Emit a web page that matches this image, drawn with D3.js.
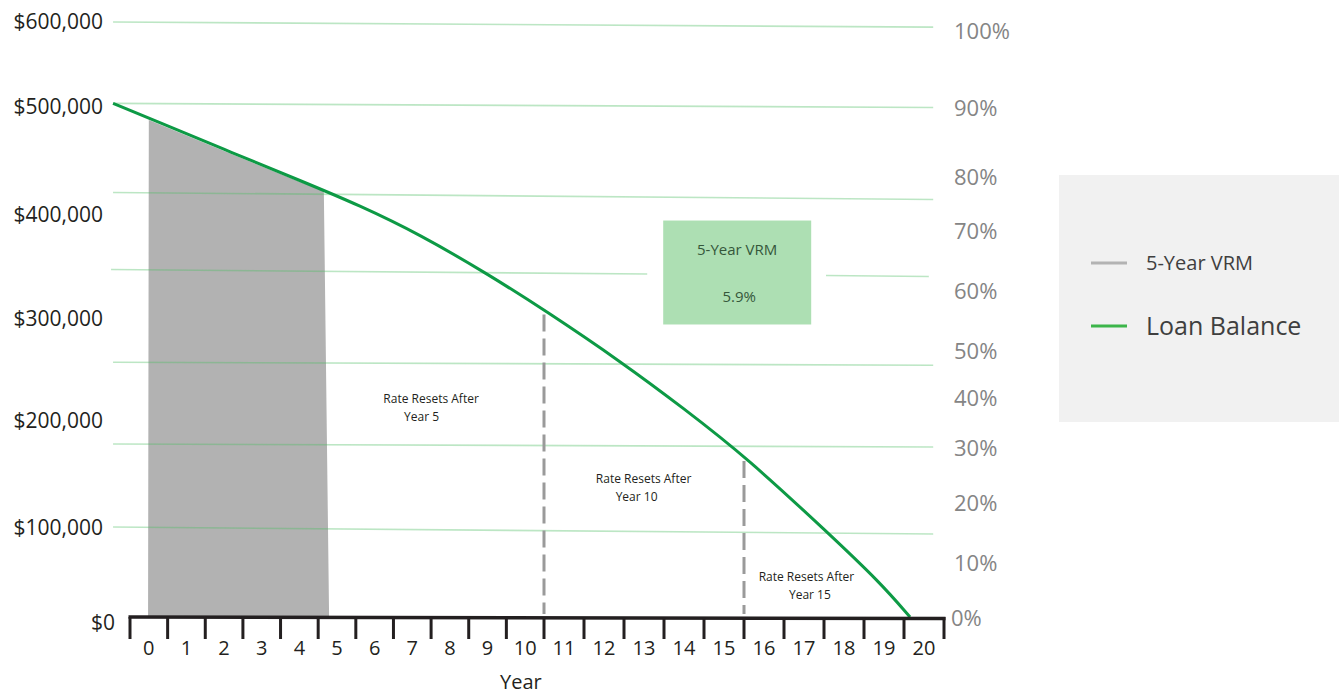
<!DOCTYPE html>
<html>
<head>
<meta charset="utf-8">
<script src="https://cdn.jsdelivr.net/npm/d3@7"></script>
<style>
  html, body { margin: 0; padding: 0; background: #ffffff; }
  svg { display: block; }
  text { font-family: "Open Sans", "Noto Sans", sans-serif; }
</style>
</head>
<body>
<svg id="chart" width="1339" height="698"></svg>
<script>
// ---------- DATA ----------
const yearLabels = d3.range(0, 21);                       // 0 .. 20
const dollarTicks = [0, 100000, 200000, 300000, 400000, 500000, 600000];
const pctTicks = [0, 10, 20, 30, 40, 50, 60, 70, 80, 90, 100];

// Loan balance curve (year position on tick scale, balance $)
const balanceYears  = [-0.45, 0.53, 2.5, 4.52, 6.11, 7.7, 9.48, 11.03, 12.98, 14.48, 16.08, 18.1, 19.4, 20.15];
const balanceValues = [503600, 488900, 460200, 431500, 408300, 380800, 343300, 307700, 255900, 211800, 164500, 93400, 38500, 0];

// 5-Year VRM shaded region
const vrmYears  = [0.48, 0.5, 2.5, 4.52, 5.15, 5.29];
const vrmValues = [0, 487500, 458800, 430000, 422500, 0];

// Rate reset markers
const resetYears = [11, 16];
const resetTops  = [303800, 161700];

// Light green reference lines (value at left end / right end)
const gridLeft  = [598800, 503600, 420400, 347100, 256900, 177600, 100000];
const gridRight = [592800, 499100, 413900, 340400, 254000, 174800, 92300];

const legendLabels = ["5-Year VRM", "Loan Balance"];
const vrmRate = "5.9%";

// ---------- SCALES ----------
const svg = d3.select("#chart");
const x = d3.scaleLinear().domain([0, 11, 21]).range([130, 544, 944]);
const y = d3.scaleLinear().domain(dollarTicks).range([617, 527, 420, 318.5, 214.5, 106.5, 21]);
const yPct = d3.scaleLinear().domain(pctTicks).range([618, 563, 502.5, 448, 398, 351, 291, 231, 177, 108, 31]);

const fmtDollar = v => "$" + d3.format(",")(v);

// ---------- VRM gray area ----------
const vrmPts = vrmYears.map((t, i) => [x(t), y(vrmValues[i])]);
svg.append("path")
  .attr("d", d3.line()(vrmPts) + "Z")
  .attr("fill", "#b2b2b2");

// ---------- grid lines ----------
const gx0 = x(-0.45), gx1 = x(20.73);
const gridG = svg.append("g")
  .attr("stroke", "rgb(80,190,100)")
  .attr("stroke-opacity", 0.38)
  .attr("stroke-width", 1.6);
gridLeft.forEach((v, i) => {
  const yl = y(v), yr = y(gridRight[i]);
  const yAt = xx => yl + (yr - yl) * (xx - gx0) / (gx1 - gx0);
  if (i === 3) {
    const a = x(13.58), b = x(18.05), e = x(20.62);
    gridG.append("line").attr("x1", gx0 - 2).attr("y1", yAt(gx0 - 2)).attr("x2", a).attr("y2", yAt(a));
    gridG.append("line").attr("x1", b).attr("y1", yAt(b)).attr("x2", e).attr("y2", yAt(e));
  } else {
    gridG.append("line").attr("x1", gx0).attr("y1", yl).attr("x2", gx1).attr("y2", yr);
  }
});

// ---------- VRM box ----------
const bx0 = x(13.98), bx1 = x(17.68), by0 = y(394200), by1 = y(294100);
svg.append("rect")
  .attr("x", bx0).attr("y", by0)
  .attr("width", bx1 - bx0).attr("height", by1 - by0)
  .attr("fill", "#addfb3");
svg.append("text")
  .attr("x", (bx0 + bx1) / 2).attr("y", by0 + 34)
  .attr("text-anchor", "middle").attr("font-size", 15).attr("fill", "#35573b")
  .text(legendLabels[0]);
svg.append("text")
  .attr("x", (bx0 + bx1) / 2 + 2).attr("y", by0 + 81)
  .attr("text-anchor", "middle").attr("font-size", 15).attr("fill", "#35573b")
  .text(vrmRate);

// ---------- reset dashed lines ----------
resetYears.forEach((t, i) => {
  svg.append("line")
    .attr("x1", x(t)).attr("x2", x(t))
    .attr("y1", y(resetTops[i])).attr("y2", y(0) - 3)
    .attr("stroke", "#9a9a9a").attr("stroke-width", 3)
    .attr("stroke-dasharray", "17,7");
});

// ---------- annotations ----------
const notes = [
  { t: 8.0,  v: 216700, l1: "Rate Resets After", l2: "Year 5",  dx2: -9.5 },
  { t: 13.49, v: 141100, l1: "Rate Resets After", l2: "Year 10", dx2: -7 },
  { t: 17.56, v: 39600,  l1: "Rate Resets After", l2: "Year 15", dx2: 3.5 }
];
notes.forEach(n => {
  svg.append("text").attr("x", x(n.t)).attr("y", y(n.v))
    .attr("text-anchor", "middle").attr("font-size", 12).attr("fill", "#231f20").text(n.l1);
  svg.append("text").attr("x", x(n.t) + n.dx2).attr("y", y(n.v) + 18)
    .attr("text-anchor", "middle").attr("font-size", 12).attr("fill", "#231f20").text(n.l2);
});

// ---------- loan balance line ----------
const linePts = balanceYears.map((t, i) => [x(t), y(balanceValues[i])]);
svg.append("path")
  .attr("d", d3.line().curve(d3.curveBasis)(linePts))
  .attr("fill", "none")
  .attr("stroke", "#0d9a45")
  .attr("stroke-width", 3);

// ---------- x axis ----------
const axG = svg.append("g");
axG.append("line")
  .attr("x1", x(0) - 1.5).attr("x2", x(21) + 1.5)
  .attr("y1", y(0)).attr("y2", y(0) + 1.5)
  .attr("stroke", "#231f20").attr("stroke-width", 3.5);
d3.range(0, 22).forEach(i => {
  axG.append("line")
    .attr("x1", x(i)).attr("x2", x(i))
    .attr("y1", y(0)).attr("y2", y(0) + 22)
    .attr("stroke", "#231f20").attr("stroke-width", 3);
});
axG.selectAll("text.xl").data(yearLabels).join("text")
  .attr("class", "xl")
  .attr("x", d => x(d + 0.5))
  .attr("y", 655)
  .attr("text-anchor", "middle")
  .attr("font-size", 20)
  .attr("fill", "#231f20")
  .text(d => d);
svg.append("text")
  .attr("x", 500).attr("y", 689)
  .attr("font-size", 20).attr("fill", "#231f20")
  .text("Year");

// ---------- left axis labels ----------
svg.selectAll("text.yl").data(dollarTicks).join("text")
  .attr("class", "yl")
  .attr("x", d => d === 0 ? 115 : 103)
  .attr("y", d => y(d) + (d === 0 ? 12.5 : 7.5))
  .attr("text-anchor", "end")
  .attr("font-size", 21)
  .attr("fill", "#231f20")
  .text(fmtDollar);

// ---------- right axis labels ----------
svg.selectAll("text.pl").data(pctTicks).join("text")
  .attr("class", "pl")
  .attr("x", d => d === 0 ? 951 : 954)
  .attr("y", d => yPct(d) + 8)
  .attr("font-size", 22)
  .attr("fill", "#858585")
  .text(d => d + "%");

// ---------- legend ----------
const lg = svg.append("g");
lg.append("rect").attr("x", 1059).attr("y", 175).attr("width", 280).attr("height", 247).attr("fill", "#f1f1f1");
const legendColors = ["#b3b3b3", "#3cb54a"];
const legendSizes = [20, 25];
const legendY = [263, 326];
legendLabels.forEach((lab, i) => {
  lg.append("line")
    .attr("x1", 1091).attr("x2", 1127)
    .attr("y1", legendY[i]).attr("y2", legendY[i])
    .attr("stroke", legendColors[i]).attr("stroke-width", 3);
  lg.append("text")
    .attr("x", 1146).attr("y", legendY[i] + (i === 0 ? 7 : 9))
    .attr("font-size", legendSizes[i])
    .attr("fill", "#3f3f3f")
    .text(lab);
});
</script>
</body>
</html>
